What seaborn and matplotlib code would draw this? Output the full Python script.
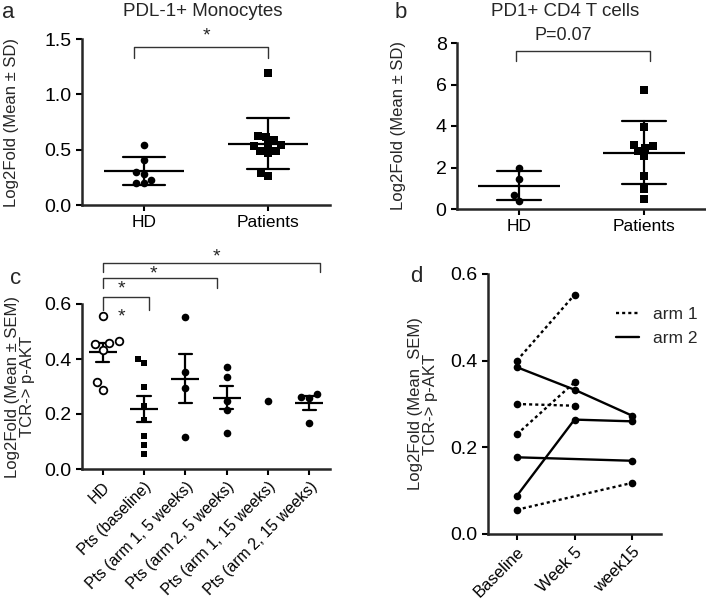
import pandas as pd
import matplotlib
matplotlib.use("Agg")
import matplotlib.pyplot as plt
from matplotlib.lines import Line2D
import seaborn as sns

# a: PDL-1+ monocytes (log2 fold)
mono_hd = [0.54, 0.41, 0.30, 0.28, 0.23, 0.20, 0.20]
mono_pts = [1.19, 0.625, 0.59, 0.61, 0.54, 0.53, 0.54, 0.49, 0.47, 0.49, 0.29, 0.26]

# b: PD1+ CD4 T cells
cd4_hd = [1.98, 1.46, 0.69, 0.40]
cd4_pts = [5.75, 3.95, 3.05, 3.10, 2.78, 2.94, 2.54, 1.57, 0.98, 0.48]

groups = ['HD', 'Patients']

# c: TCR -> p-AKT per group
akt_groups = ['HD', 'Pts (baseline)', 'Pts (arm 1, 5 weeks)', 'Pts (arm 2, 5 weeks)',
              'Pts (arm 1, 15 weeks)', 'Pts (arm 2, 15 weeks)']
akt_hd = [0.556, 0.465, 0.455, 0.458, 0.433, 0.287, 0.316]
akt_base = [0.40, 0.385, 0.298, 0.229, 0.178, 0.12, 0.087, 0.055]
akt_arm1_5 = [0.552, 0.352, 0.294, 0.116]
akt_arm2_5 = [0.370, 0.333, 0.249, 0.215, 0.131]
akt_arm1_15 = [0.249]
akt_arm2_15 = [0.262, 0.260, 0.272, 0.167]

# d: paired patient values over time
timepoints = ['Baseline', 'Week 5', 'week15']
pt_subject = [1, 1, 2, 2, 3, 3, 4, 4, 5, 5, 5, 6, 6, 6, 7, 7]
pt_arm = ['arm 1'] * 8 + ['arm 2'] * 8
pt_time = ['Baseline', 'Week 5', 'Baseline', 'Week 5', 'Baseline', 'Week 5', 'Baseline', 'week15',
           'Baseline', 'Week 5', 'week15', 'Baseline', 'Week 5', 'week15', 'Baseline', 'week15']
pt_value = [0.40, 0.552, 0.30, 0.296, 0.23, 0.35, 0.056, 0.118,
            0.385, 0.333, 0.273, 0.088, 0.264, 0.26, 0.177, 0.169]


def long_df(names, lists):
    rows = []
    for n, vals in zip(names, lists):
        rows += [(n, v) for v in vals]
    return pd.DataFrame(rows, columns=['group', 'value'])


sns.set_style('ticks')
plt.rcParams['font.family'] = ['Liberation Sans', 'DejaVu Sans']
plt.rcParams['axes.linewidth'] = 1.8

fig = plt.figure(figsize=(7.06, 6.02), dpi=100)
W, H = 706, 602


def add_ax(l, t, r, b):
    return fig.add_axes([l / W, 1 - b / H, (r - l) / W, (b - t) / H])


def tidy(ax):
    sns.despine(ax=ax)
    ax.tick_params(width=1.5, length=4, labelsize=14, colors='k')


def bracket(ax, x0, x1, y, drop, text, tx, ty, size=14):
    ax.plot([x0, x0, x1, x1], [y - drop, y, y, y - drop], color='#333333', lw=1.0, clip_on=False)
    ax.text(tx, ty, text, ha='center', va='center', fontsize=size)


def dot_panel(ax, df, markers, mean_w, cap):
    for g, m in zip(groups, markers):
        sns.swarmplot(data=df[df.group == g], x='group', y='value', order=groups,
                      marker=m, color='k', size=5.5, ax=ax)
    sns.pointplot(data=df, x='group', y='value', order=groups, errorbar='sd',
                  capsize=cap, color='k', linestyle='none', marker='_',
                  markersize=mean_w, markeredgewidth=1.6,
                  err_kws={'linewidth': 1.6}, ax=ax)
    ax.set_xlim(-0.5, 1.5)
    ax.set_xlabel('')
    tidy(ax)
    ax.tick_params(axis='x', labelsize=12.5)


# ---- a ----
ax_a = add_ax(82, 39, 330, 205)
df_a = long_df(groups, [mono_hd, mono_pts])
dot_panel(ax_a, df_a, ['o', 's'], 57, 0.34)
ax_a.set_ylim(0, 1.5)
ax_a.set_yticks([0, 0.5, 1.0, 1.5])
ax_a.set_yticklabels(['0.0', '0.5', '1.0', '1.5'])
ax_a.set_ylabel('Log2Fold (Mean ± SD)', fontsize=12)
ax_a.yaxis.set_label_coords(-0.255, 0.5)
bracket(ax_a, -0.08, 1.0, 1.43, 0.1, '*', 0.5, 1.53)

# ---- b ----
ax_b = add_ax(457, 43, 706, 209)
df_b = long_df(groups, [cd4_hd, cd4_pts])
dot_panel(ax_b, df_b, ['o', 's'], 59, 0.35)
ax_b.set_ylim(0, 8)
ax_b.set_yticks([0, 2, 4, 6, 8])
ax_b.set_ylabel('Log2Fold (Mean ± SD)', fontsize=12)
ax_b.yaxis.set_label_coords(-0.205, 0.5)
bracket(ax_b, -0.03, 1.05, 7.6, 0.48, 'P=0.07', 0.35, 8.35, size=13)

# ---- c ----
ax_c = add_ax(82, 304, 330, 469)
akt_lists = [akt_hd, akt_base, akt_arm1_5, akt_arm2_5, akt_arm1_15, akt_arm2_15]
df_c = long_df(akt_groups, akt_lists)
sns.swarmplot(data=df_c[df_c.group == 'HD'], x='group', y='value', order=akt_groups,
              marker='o', color='white', edgecolor='k', linewidth=1.3, size=5.5, ax=ax_c)
sns.swarmplot(data=df_c[df_c.group == 'Pts (baseline)'], x='group', y='value',
              order=akt_groups, marker='s', color='k', size=5, ax=ax_c)
sns.swarmplot(data=df_c[~df_c.group.isin(['HD', 'Pts (baseline)'])], x='group', y='value',
              order=akt_groups, marker='o', color='k', size=5.5, ax=ax_c)
counts = df_c.group.value_counts()
df_c_err = df_c[df_c.group.map(counts) > 1]
sns.pointplot(data=df_c_err, x='group', y='value', order=akt_groups, errorbar='se',
              capsize=0.33, color='k', linestyle='none', marker='_',
              markersize=20, markeredgewidth=1.6, err_kws={'linewidth': 1.6}, ax=ax_c)
ax_c.set_xlim(-0.5, 5.5)
ax_c.set_ylim(0, 0.6)
ax_c.set_yticks([0, 0.2, 0.4, 0.6])
ax_c.set_yticklabels(['0.0', '0.2', '0.4', '0.6'])
ax_c.set_xlabel('')
tidy(ax_c)
ax_c.set_xticks(range(len(akt_groups)))
ax_c.set_xticklabels(akt_groups, rotation=45, ha='right', rotation_mode='anchor', fontsize=11.3)
ax_c.set_ylabel('Log2Fold (Mean ± SEM)\nTCR-> p-AKT', fontsize=12, linespacing=1.0)
ax_c.yaxis.set_label_coords(-0.19, 0.5)
bracket(ax_c, 0, 1.12, 0.625, 0.045, '*', 0.46, 0.655)
bracket(ax_c, 0, 2.76, 0.695, 0.035, '*', 1.23, 0.71)
bracket(ax_c, 0, 5.25, 0.749, 0.033, '*', 2.76, 0.772)
ax_c.text(0.46, 0.553, '*', ha='center', va='center', fontsize=14)

# ---- d ----
ax_d = add_ax(488, 274, 661, 534)
df_d = pd.DataFrame({'subject': pt_subject, 'arm': pt_arm, 'time': pt_time, 'value': pt_value})
df_d['pos'] = df_d.time.map({t: i for i, t in enumerate(timepoints)})
arm_dashes = {'arm 1': (1.3, 1.3), 'arm 2': ''}
sns.lineplot(data=df_d, x='pos', y='value', units='subject', estimator=None,
             style='arm', style_order=['arm 1', 'arm 2'], dashes=arm_dashes,
             color='k', marker='o', markersize=5.5, markeredgewidth=0, linewidth=1.7,
             sort=False, legend=False, ax=ax_d)
ax_d.set_xlim(-0.5, 2.5)
ax_d.set_ylim(0, 0.6)
ax_d.set_yticks([0, 0.2, 0.4, 0.6])
ax_d.set_yticklabels(['0.0', '0.2', '0.4', '0.6'])
ax_d.set_xlabel('')
tidy(ax_d)
ax_d.set_xticks(range(len(timepoints)))
ax_d.set_xticklabels(timepoints, rotation=45, ha='right', rotation_mode='anchor', fontsize=12)
ax_d.set_ylabel('Log2Fold (Mean  SEM)\nTCR-> p-AKT', fontsize=12, linespacing=1.0)
ax_d.yaxis.set_label_coords(-0.29, 0.5)
handles = [Line2D([], [], color='k', lw=1.7, dashes=(1.3, 1.3)),
           Line2D([], [], color='k', lw=1.7, linestyle='-')]
ax_d.legend(handles, ['arm 1', 'arm 2'], loc='upper left', bbox_to_anchor=(0.7, 0.9),
            frameon=False, fontsize=12.5, handlelength=1.3, handletextpad=0.8, borderaxespad=0)

# titles and panel letters
fig.text(203 / W, 1 - 12 / H, 'PDL-1+ Monocytes', ha='center', va='center', fontsize=13.5)
fig.text(565 / W, 1 - 12 / H, 'PD1+ CD4 T cells', ha='center', va='center', fontsize=13.5)
for letter, x, y in [('a', 8, 12), ('b', 401, 12), ('c', 16, 278), ('d', 416, 277)]:
    fig.text(x / W, 1 - y / H, letter, ha='center', va='center', fontsize=16)

fig.savefig('out.png', dpi=100)
